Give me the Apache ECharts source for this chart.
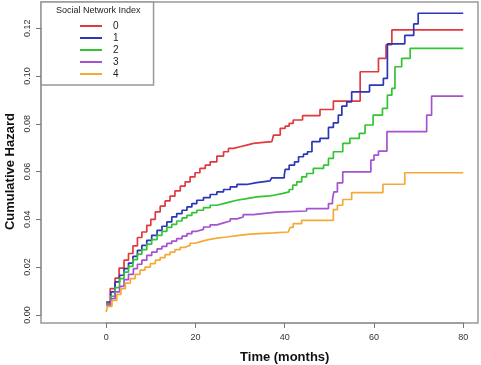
<!DOCTYPE html>
<html>
<head>
<meta charset="utf-8">
<script src="https://cdn.jsdelivr.net/npm/echarts@6/dist/echarts.min.js"></script>
<style>html,body{margin:0;padding:0;background:#fff}#c{width:481px;height:365px}</style>
</head>
<body>
<div id="c"></div>
<script>
const seriesNames = ['0', '1', '2', '3', '4'];
const seriesColors = ['#e03a3e', '#2b36b8', '#33c433', '#a552d0', '#f4aa38'];
const xTicks = [0, 20, 40, 60, 80];
const yTicks = [0, 0.02, 0.04, 0.06, 0.08, 0.10, 0.12];

const time0 = [0,0.9,2.0,2.9,4.0,5.0,6.0,7.0,8.0,9.1,10.0,11.0,12.1,13.2,14.3,15.4,16.6,17.7,18.8,19.9,21.0,22.2,23.3,24.8,26.3,27.4,28.5,30.0,31.5,33.0,35.2,37.1,37.5,39.0,40.1,41.0,41.9,44.0,47.9,50.9,56.9,61.0,62.7,64.0,80];
const haz0 = [0.0048,0.011,0.0154,0.0196,0.0229,0.0257,0.0289,0.0324,0.0347,0.0375,0.040,0.0431,0.0455,0.0477,0.0497,0.0519,0.0539,0.0557,0.0578,0.0595,0.0613,0.0627,0.0641,0.0665,0.0683,0.0697,0.0704,0.0711,0.0718,0.0722,0.0725,0.0729,0.0753,0.0781,0.079,0.0802,0.0816,0.0834,0.086,0.0895,0.1018,0.1074,0.1131,0.1193,0.1193];

const time1 = [0,1.05,2.0,3.0,4.0,5.0,6.0,7.0,8.0,9.1,10.2,11.4,12.5,13.6,14.7,15.8,17.0,18.1,19.2,20.3,21.8,23.3,24.8,26.3,27.8,29.3,31.5,33.7,36.7,37.1,39.9,40.1,41.0,42.2,43.1,44.2,45.1,46.1,47.9,49.8,50.9,52.0,52.8,53.9,55.0,59.0,62.1,63.0,66.9,68.9,69.9,80];
const haz1 = [0.0054,0.0096,0.0138,0.0166,0.0194,0.0217,0.0245,0.027,0.0291,0.0312,0.0333,0.0354,0.0371,0.0389,0.041,0.0424,0.0438,0.0452,0.0466,0.048,0.0491,0.0504,0.0515,0.0525,0.0536,0.0546,0.0554,0.0561,0.0564,0.0574,0.0585,0.0609,0.0627,0.0641,0.0662,0.0673,0.0683,0.0725,0.0739,0.0785,0.0804,0.0836,0.0874,0.0892,0.0934,0.0962,0.099,0.1135,0.117,0.1218,0.1263,0.1263];

const time2 = [0,1.05,2.0,3.0,4.0,5.0,6.0,7.0,8.0,9.1,10.2,11.4,12.5,13.6,14.7,15.8,17.0,18.1,19.2,20.3,21.8,23.3,24.8,26.3,27.8,29.3,31.5,33.7,36.7,37.5,39.4,41.0,41.8,42.7,43.8,44.9,46.4,48.7,49.8,50.9,53.0,54.6,56.7,58.0,59.8,61.9,63.0,64.0,64.7,66.2,68.1,80];
const haz2 = [0.0044,0.0078,0.0114,0.0152,0.0179,0.0203,0.0231,0.0254,0.0273,0.0296,0.0315,0.0333,0.035,0.0366,0.0379,0.0393,0.0406,0.0417,0.0428,0.0438,0.0449,0.0459,0.0466,0.0473,0.048,0.0487,0.0494,0.0498,0.0501,0.0508,0.0515,0.0525,0.0543,0.0557,0.0578,0.0592,0.0613,0.0627,0.0655,0.0683,0.0718,0.0739,0.076,0.0795,0.0836,0.0865,0.092,0.0948,0.1039,0.1074,0.1116,0.1116];

const time3 = [0,1.05,2.0,3.0,4.0,5.0,6.1,7.0,8.0,9.1,10.2,11.4,12.5,13.6,14.7,15.8,17.0,18.1,19.2,20.3,21.8,23.3,24.8,26.3,27.8,29.3,30.7,33.0,36.0,38.2,44.9,49.8,50.7,51.0,51.8,53.0,59.3,60.0,61.0,62.9,71.8,72.9,80];
const haz3 = [0.0040,0.0068,0.0096,0.0119,0.0148,0.017,0.0194,0.0212,0.0229,0.0249,0.0263,0.0276,0.0287,0.0299,0.0309,0.0319,0.033,0.034,0.035,0.0358,0.0368,0.0377,0.0385,0.0393,0.0402,0.041,0.042,0.0426,0.043,0.0435,0.0445,0.0466,0.0483,0.0515,0.0553,0.0599,0.0648,0.0669,0.0686,0.0767,0.0836,0.0916,0.0916];

const time4 = [0,0.3,1.3,2.4,3.3,4.3,5.4,6.5,7.6,8.7,9.9,11.0,12.1,13.2,14.3,15.4,16.6,17.7,18.8,19.9,21.4,22.9,24.8,27.0,29.3,32.2,37.5,40.8,41.2,41.9,43.8,50.9,51.8,53.0,55.0,62.0,66.9,80];
const haz4 = [0.0012,0.0036,0.0061,0.0086,0.011,0.0133,0.0152,0.017,0.0187,0.02,0.0215,0.0229,0.024,0.0252,0.0263,0.0273,0.0283,0.0291,0.03,0.0308,0.0315,0.0321,0.0326,0.0332,0.0338,0.0343,0.0347,0.0351,0.0366,0.0382,0.0396,0.0441,0.0459,0.0483,0.0512,0.0547,0.0595,0.0595];

const times = [time0, time1, time2, time3, time4];
const hazards = [haz0, haz1, haz2, haz3, haz4];

const FONT = 'Liberation Sans';
const chart = echarts.init(document.getElementById('c'), null, {renderer: 'canvas'});

const X_MIN = -14.6, X_MAX = 83.3, Y_MIN = -0.0034, Y_MAX = 0.131;
const G = {left: 41, right: 3, top: 2, bottom: 42};
const W = 481 - G.left - G.right, H = 365 - G.top - G.bottom;
const xPx = v => G.left + (v - X_MIN) / (X_MAX - X_MIN) * W;
const yPx = v => G.top + (Y_MAX - v) / (Y_MAX - Y_MIN) * H;
const xT0 = xTicks[0], xT1 = xTicks[xTicks.length - 1];
const yT0 = yTicks[0], yT1 = yTicks[yTicks.length - 1];

const series = seriesNames.map((name, i) => ({
  name: name,
  type: 'line',
  xAxisIndex: 0, yAxisIndex: 0,
  step: 'end',
  symbol: 'none',
  showSymbol: false,
  animation: false,
  lineStyle: {color: seriesColors[i], width: 1.7},
  itemStyle: {color: seriesColors[i]},
  data: times[i].map((t, j) => [t, hazards[i][j]])
}));

const labelStyle = {fontFamily: FONT, fontSize: 9, color: '#333'};

chart.setOption({
  animation: false,
  backgroundColor: '#fff',
  grid: [
    {left: G.left, right: G.right, top: G.top, bottom: G.bottom, containLabel: false, outerBoundsMode: 'none',
     show: true, borderColor: '#999', borderWidth: 1.5, backgroundColor: 'transparent'},
    {left: xPx(xT0), right: 481 - xPx(xT1), top: G.top, bottom: G.bottom, containLabel: false, outerBoundsMode: 'none'},
    {left: G.left, right: G.right, top: yPx(yT1), bottom: 365 - yPx(yT0), containLabel: false, outerBoundsMode: 'none'}
  ],
  xAxis: [
    {gridIndex: 0, type: 'value', min: X_MIN, max: X_MAX, show: false},
    {gridIndex: 1, type: 'value', min: xT0, max: xT1, interval: 20, z: 10,
     name: 'Time (months)', nameLocation: 'middle', nameGap: 28, nameMoveOverlap: false,
     nameTextStyle: {fontFamily: FONT, fontWeight: 'bold', fontSize: 13, color: '#111'},
     axisLine: {show: true, onZero: true, lineStyle: {color: '#999', width: 1.5}}, splitLine: {show: false},
     axisTick: {show: true, inside: false, length: 5, lineStyle: {color: '#777', width: 1}},
     axisLabel: Object.assign({margin: 10, formatter: v => String(v)}, labelStyle)},
    {gridIndex: 2, type: 'value', min: 0, max: 1, show: false}
  ],
  yAxis: [
    {gridIndex: 0, type: 'value', min: Y_MIN, max: Y_MAX, show: false},
    {gridIndex: 1, type: 'value', min: 0, max: 1, show: false},
    {gridIndex: 2, type: 'value', min: yT0, max: yT1, interval: 0.02, z: 10,
     name: 'Cumulative Hazard', nameLocation: 'middle', nameGap: 24, nameMoveOverlap: false,
     nameTextStyle: {fontFamily: FONT, fontWeight: 'bold', fontSize: 13, color: '#111'},
     axisLine: {show: true, onZero: true, lineStyle: {color: '#999', width: 1.5}}, splitLine: {show: false},
     axisTick: {show: true, inside: false, length: 5, lineStyle: {color: '#777', width: 1}},
     axisLabel: Object.assign({margin: 9, rotate: 90, formatter: v => v.toFixed(2)}, labelStyle)}
  ],
  legend: {
    orient: 'vertical', left: 41, top: 2,
    data: seriesNames,
    itemWidth: 22, itemHeight: 10, itemGap: 2,
    padding: [19, 35, 6, 38],
    itemStyle: {opacity: 0},
    backgroundColor: '#fff', borderColor: '#999', borderWidth: 1.5, borderRadius: 0,
    textStyle: {fontFamily: FONT, fontSize: 10, color: '#222', padding: [0, 0, 0, 6]},
    selectedMode: false
  },
  graphic: [{
    type: 'text', left: 56, top: 6, z: 100,
    style: {text: 'Social Network Index', font: '9px "Liberation Sans"', fill: '#222'}
  }],
  series: series
});
</script>
</body>
</html>
